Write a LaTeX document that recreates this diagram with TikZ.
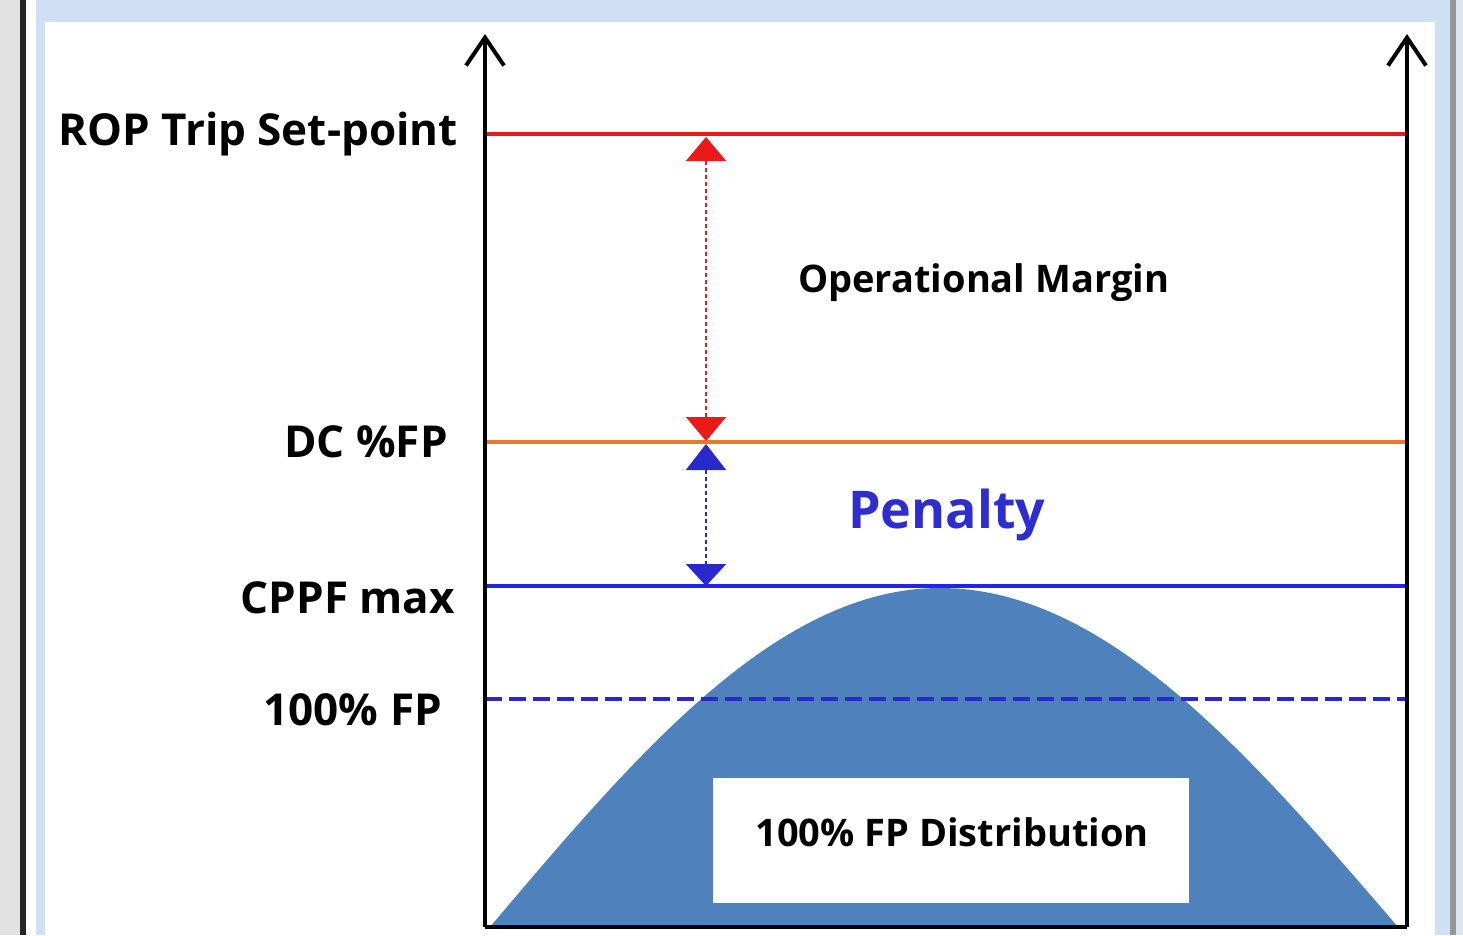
\documentclass[tikz,border=0pt]{standalone}
\usepackage{fontspec}
\setmainfont{Open Sans}
\usetikzlibrary{arrows.meta}
\definecolor{stripgray}{RGB}{226,226,226}
\definecolor{frameblue}{RGB}{207,224,245}
\definecolor{edgegray}{RGB}{150,150,150}
\definecolor{farblue}{RGB}{220,228,238}
\definecolor{ropred}{RGB}{235,25,25}
\definecolor{dcorange}{RGB}{232,122,42}
\definecolor{cppfblue}{RGB}{35,35,235}
\definecolor{fpblue}{RGB}{40,40,205}
\definecolor{curveblue}{RGB}{79,129,189}
\definecolor{penblue}{RGB}{45,45,210}
\tikzset{
  axisline/.style={line width=4pt, black, -{Straight Barb[length=28pt,width=38pt,line width=4pt]}},
  levelline/.style={line width=4.5pt},
  lbl/.style={font=\bfseries\fontsize{44}{48}\selectfont, anchor=east, inner sep=0pt},
  redarrow/.style={line width=2pt, ropred, dash pattern=on 4pt off 3pt,
     {Triangle[length=24pt,width=40pt]}-{Triangle[length=24pt,width=40pt]}},
  bluearrow/.style={line width=2pt, fpblue, dash pattern=on 4pt off 3pt,
     {Triangle[length=26pt,width=40pt]}-{Triangle[length=22pt,width=40pt]}},
}
\begin{document}
\begin{tikzpicture}[x=1pt,y=-1pt]
\useasboundingbox (0,0) rectangle (1463,935);
% window frame
\fill[stripgray] (0,0) rectangle (20,935);
\fill[black!85] (20,0) rectangle (26,935);
\fill[white] (26,0) rectangle (36,935);
\fill[frameblue] (36,0) rectangle (1450,935);
\fill[white] (45,22) rectangle (1435,935);
\fill[edgegray] (1450,0) rectangle (1456,935);
\fill[farblue] (1456,0) rectangle (1463,935);

% distribution curve
\fill[curveblue] (490,927) sin (940,588) cos (1398,927) -- cycle;

% coordinates
\coordinate (O) at (485,927);
\coordinate (R0) at (1407,927);
\coordinate (Ltop) at (485,34);
\coordinate (Rtop) at (1407,34);
\coordinate (ropL) at (485,134);
\coordinate (ropR) at (1407,134);
\coordinate (dcL) at (485,442);
\coordinate (dcR) at (1407,442);
\coordinate (cpL) at (485,586);
\coordinate (cpR) at (1407,586);
\coordinate (fpL) at (485,699);
\coordinate (fpR) at (1407,699);
\coordinate (mTop) at (706,137);
\coordinate (mBot) at (706,441);
\coordinate (pTop) at (706,444);
\coordinate (pBot) at (706,586);

% level lines
\draw[levelline, ropred] (ropL) -- (ropR);
\draw[levelline, dcorange] (dcL) -- (dcR);
\draw[levelline, cppfblue] (cpL) -- (cpR);
\draw[levelline, fpblue, dash pattern=on 17pt off 7pt] (fpL) -- (fpR);

% margin arrows
\draw[redarrow] (mTop) -- (mBot);
\draw[bluearrow] (pTop) -- (pBot);

% axes
\draw[line width=4pt] (O) -- (R0);
\draw[axisline] (O) -- (Ltop);
\draw[axisline] (R0) -- (Rtop);

% box
\node[fill=white, minimum width=476pt, minimum height=125pt, inner sep=0pt] (distbox) at (951,840.5) {};
\node[font=\bfseries\fontsize{38}{42}\selectfont, inner sep=0pt] (disttext) at (952,832) {100\% FP Distribution};

% labels
\node[lbl] (roplbl) at (458,134) {ROP Trip Set-point};
\node[lbl] (dclbl) at (448,442) {DC \%FP};
\node[lbl] (cplbl) at (455,598) {CPPF max};
\node[lbl] (fplbl) at (442,710) {100\% FP};
\node[font=\bfseries\fontsize{38}{42}\selectfont, anchor=west, inner sep=0pt] (margin) at (798,283) {Operational Margin};
\node[font=\bfseries\fontsize{52}{58}\selectfont, anchor=west, inner sep=0pt, text=penblue] (penalty) at (848,515) {Penalty};
\end{tikzpicture}
\end{document}
